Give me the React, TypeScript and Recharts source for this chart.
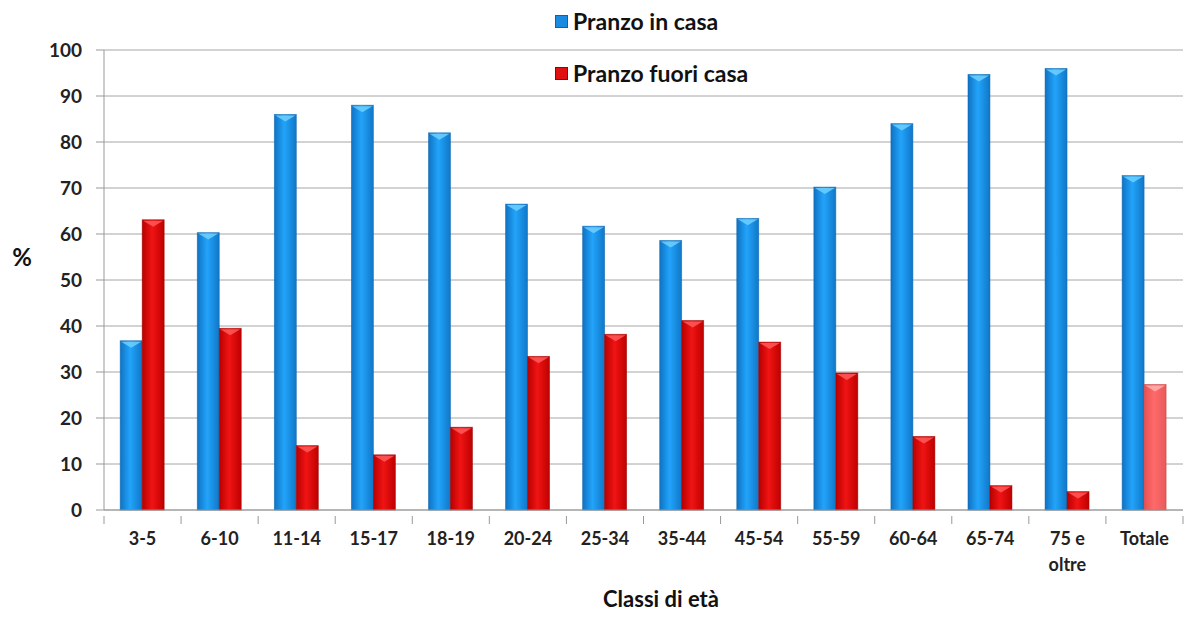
import { BarChart, Bar, XAxis, YAxis, CartesianGrid, Cell, Label } from "recharts";

const categories = ["3-5", "6-10", "11-14", "15-17", "18-19", "20-24", "25-34", "35-44", "45-54", "55-59", "60-64", "65-74", "75 e oltre", "Totale"];
const inCasa = [36.8, 60.3, 86.0, 88.0, 82.0, 66.5, 61.7, 58.6, 63.4, 70.2, 84.0, 94.7, 96.0, 72.7];
const fuoriCasa = [63.1, 39.5, 14.0, 12.0, 18.0, 33.4, 38.2, 41.2, 36.5, 29.8, 16.0, 5.3, 4.0, 27.3];
const yTicks = [0, 10, 20, 30, 40, 50, 60, 70, 80, 90, 100];

const data = categories.map((c, i) => ({ name: c, casa: inCasa[i], fuori: fuoriCasa[i] }));

const FONT = "Lato, 'Open Sans', sans-serif";
const W = 1184;
const H = 633;
const M = { top: 50, right: 1, bottom: 63, left: 44 };
const Y_W = 60;
const BAND = (W - M.left - M.right - Y_W) / categories.length;

const series = [
    { key: "casa", label: "Pranzo in casa", color: "#1a8be0", top: "#6fd0ff", edge: "#0c63a8" },
    { key: "fuori", label: "Pranzo fuori casa", color: "#e01010", top: "#ff5a5a", edge: "#9a0000" },
];

function makeShape(top: string, edge: string) {
    return (props: any) => {
        const { x, y, width, height, fill } = props;
        if (!height || height <= 0) return <g />;
        const isLight = fill === "url(#gRedLight)";
        const tri = isLight ? "#ffb0b0" : top;
        return (
            <g>
                <rect x={x} y={y} width={width} height={height} fill={fill} stroke={isLight ? "#c04040" : edge} strokeWidth={0.8} strokeOpacity={0.6} />
                <polygon points={`${x + 1},${y + 1} ${x + width - 1},${y + 1} ${x + width / 2},${y + 7}`} fill={tri} opacity={0.85} />
            </g>
        );
    };
}

function XTick(props: any) {
    const { x, y, payload, index } = props;
    const parts = payload.value === "75 e oltre" ? ["75 e", "oltre"] : [payload.value];
    const half = BAND / 2;
    return (
        <g>
            <line x1={x - half} x2={x - half} y1={y} y2={y + 8} stroke="#999" />
            {index === categories.length - 1 && <line x1={x + half} x2={x + half} y1={y} y2={y + 8} stroke="#999" />}
            {parts.map((p, i) => (
                <text key={i} x={x} y={y + 29 + i * 26} textAnchor="middle" fontFamily={FONT} fontWeight={700} fontSize={18} fill="#222">
                    {p}
                </text>
            ))}
        </g>
    );
}

function LegendBox() {
    return (
        <div style={{ position: "absolute", left: 555, top: 8, fontFamily: FONT, fontWeight: 700, fontSize: 23, color: "#111", whiteSpace: "nowrap" }}>
            {series.map((s, i) => (
                <div key={s.key} style={{ display: "flex", alignItems: "center", height: 26, marginBottom: i === 0 ? 26 : 0 }}>
                    <span style={{ display: "inline-block", width: 11, height: 11, background: s.color, border: `1px solid ${s.edge}`, marginRight: 5 }} />
                    {s.label}
                </div>
            ))}
        </div>
    );
}

export default function App() {
    return (
        <div style={{ position: "absolute", left: 0, top: 0, width: W, height: H, background: "#fff" }}>
            <BarChart width={W} height={H} data={data} margin={M} barCategoryGap="21%" barGap={0}>
                <defs>
                    <linearGradient id="gBlue" x1="0" y1="0" x2="1" y2="0">
                        <stop offset="0%" stopColor="#0f72c4" />
                        <stop offset="45%" stopColor="#22a4fa" />
                        <stop offset="100%" stopColor="#1077c8" />
                    </linearGradient>
                    <linearGradient id="gRed" x1="0" y1="0" x2="1" y2="0">
                        <stop offset="0%" stopColor="#b80000" />
                        <stop offset="45%" stopColor="#f01414" />
                        <stop offset="100%" stopColor="#bf0000" />
                    </linearGradient>
                    <linearGradient id="gRedLight" x1="0" y1="0" x2="1" y2="0">
                        <stop offset="0%" stopColor="#e85050" />
                        <stop offset="45%" stopColor="#ff6a6a" />
                        <stop offset="100%" stopColor="#e85a5a" />
                    </linearGradient>
                </defs>
                <CartesianGrid vertical={false} stroke="#a6a6a6" strokeWidth={1} />
                <XAxis
                    dataKey="name"
                    interval={0}
                    height={60}
                    tickLine={false}
                    tickMargin={0}
                    axisLine={{ stroke: "#999" }}
                    tick={<XTick />}
                >
                    <Label
                        content={() => (
                            <text x={661} y={607} textAnchor="middle" fontFamily={FONT} fontWeight={700} fontSize={22} fill="#111">
                                Classi di età
                            </text>
                        )}
                    />
                </XAxis>
                <YAxis
                    domain={[0, 100]}
                    ticks={yTicks}
                    width={Y_W}
                    tickSize={8}
                    tickMargin={14}
                    axisLine={{ stroke: "#999" }}
                    tickLine={{ stroke: "#999" }}
                    tick={{ fontFamily: FONT, fontWeight: 700, fontSize: 19, fill: "#222" }}
                >
                    <Label
                        content={() => (
                            <text x={22} y={266} textAnchor="middle" fontFamily={FONT} fontSize={24} fontWeight={700} fill="#111">
                                %
                            </text>
                        )}
                    />
                </YAxis>
                <Bar dataKey="casa" name="Pranzo in casa" fill="url(#gBlue)" shape={makeShape(series[0].top, series[0].edge)} isAnimationActive={false} />
                <Bar dataKey="fuori" name="Pranzo fuori casa" fill="url(#gRed)" shape={makeShape(series[1].top, series[1].edge)} isAnimationActive={false}>
                    {data.map((d, i) => (
                        <Cell key={i} fill={d.name === "Totale" ? "url(#gRedLight)" : "url(#gRed)"} />
                    ))}
                </Bar>
            </BarChart>
            <LegendBox />
        </div>
    );
}
